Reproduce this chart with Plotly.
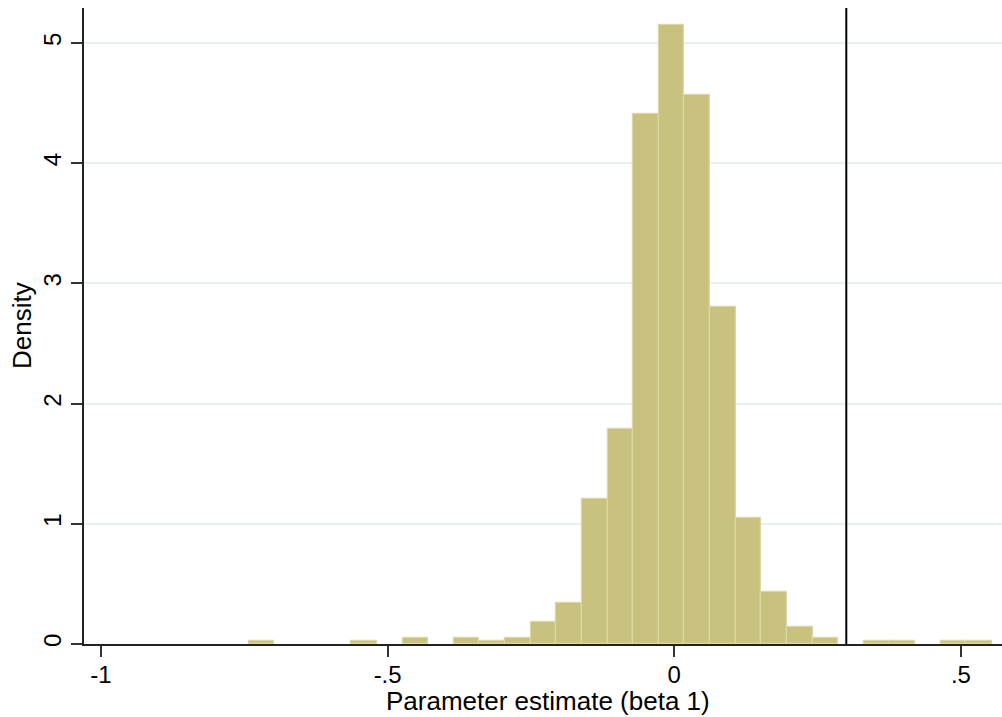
import plotly.graph_objects as go

# Histogram data (density per bin)
bin_start = -0.7422
bin_width = 0.0447
densities = [0.025, 0, 0, 0, 0.025, 0, 0.05, 0, 0.05, 0.025,
             0.05, 0.18, 0.34, 1.21, 1.79, 4.41, 5.15, 4.57, 2.80, 1.05,
             0.43, 0.14, 0.05, 0, 0.025, 0.025, 0, 0.025, 0.025]
ref_line = 0.30

x_tickvals = [-1, -0.5, 0, 0.5]
x_ticktext = ["-1", "-.5", "0", ".5"]
y_tickvals = [0, 1, 2, 3, 4, 5]
y_ticktext = ["0", "1", "2", "3", "4", "5"]
x_title = "Parameter estimate (beta 1)"
y_title = "Density"

centers = [bin_start + bin_width * (i + 0.5) for i in range(len(densities))]
# empty bins drawn as nothing (no outline along the baseline)
heights = [d if d > 0 else None for d in densities]

fig = go.Figure()
fig.add_trace(go.Bar(
    x=centers, y=heights, width=bin_width,
    marker=dict(color="#c9c27e", line=dict(color="#dcd7a6", width=1.2)),
    hoverinfo="x+y",
))

fig.add_shape(type="line", xref="x", yref="paper", x0=ref_line, x1=ref_line,
              y0=0, y1=1, line=dict(color="black", width=2))

font_family = "Liberation Sans, Arial, sans-serif"

fig.add_annotation(text=x_title, xref="paper", yref="paper", x=0.5, y=0,
                   xanchor="center", yanchor="middle", yshift=-57, xshift=5,
                   showarrow=False, font=dict(size=26))
fig.add_annotation(text=y_title, xref="paper", yref="paper", x=0, y=0.5,
                   xanchor="center", yanchor="middle", xshift=-62, textangle=-90,
                   showarrow=False, font=dict(size=26))

fig.update_layout(
    width=1002, height=717,
    margin=dict(l=84, r=0, t=8, b=73),
    paper_bgcolor="white", plot_bgcolor="white",
    bargap=0, showlegend=False,
    font=dict(family=font_family, size=24, color="black"),
    xaxis=dict(
        range=[-1.0296, 0.5716],
        tickvals=x_tickvals, ticktext=x_ticktext,
        ticks="outside", ticklen=11, tickwidth=2, tickcolor="#333333",
        showline=True, linecolor="#222222", linewidth=2,
        showgrid=False, zeroline=False,
        tickfont=dict(size=24), ticklabelstandoff=-3,
    ),
    yaxis=dict(
        range=[0, 5.29],
        tickvals=y_tickvals, ticktext=y_ticktext,
        tickangle=-90,
        ticks="outside", ticklen=11, tickwidth=2, tickcolor="#333333",
        showline=True, linecolor="#222222", linewidth=2,
        showgrid=True, gridcolor="#e8f0f2", gridwidth=2,
        zeroline=False,
        tickfont=dict(size=24),
    ),
)

fig.write_html("out.html", config={"displayModeBar": False},
               post_script="document.body.style.margin='0px';")
